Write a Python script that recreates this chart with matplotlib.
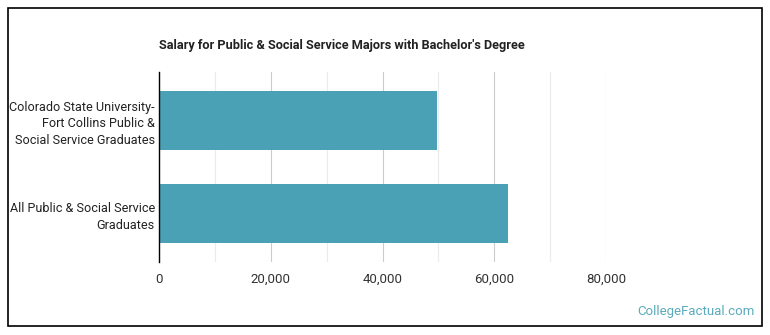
import matplotlib.pyplot as plt
from matplotlib.patches import Rectangle
from matplotlib.ticker import FuncFormatter, MultipleLocator

categories = ['Colorado State University-\nFort Collins Public &\nSocial Service Graduates',
              'All Public & Social Service\nGraduates']
salaries = [49800, 62500]
xticks = [0, 20000, 40000, 60000, 80000]

plt.rcParams['font.family'] = ['Roboto', 'DejaVu Sans']

fig = plt.figure(figsize=(7.7, 3.35), dpi=100)
ax = fig.add_axes([159/770, 1 - 262/335, (606 - 159)/770, (262 - 72)/335])

ax.barh(range(len(categories)), salaries, height=0.63, color='#4aa0b5', zorder=3)
ax.set_ylim(1.52, -0.52)
ax.set_xlim(0, 80000)

ax.set_xticks(xticks)
ax.xaxis.set_minor_locator(MultipleLocator(10000))
ax.xaxis.set_major_formatter(FuncFormatter(lambda v, p: f'{int(v):,}'))
ax.grid(axis='x', which='major', color='#cccccc', linewidth=0.8, zorder=0)
ax.grid(axis='x', which='minor', color='#ebebeb', linewidth=0.8, zorder=0)
ax.tick_params(axis='x', which='both', length=0, pad=8, labelsize=9.5, labelcolor='#333333')

ax.set_yticks(range(len(categories)))
ax.set_yticklabels(categories, linespacing=1.35)
ax.tick_params(axis='y', length=0, pad=3, labelsize=9.1, labelcolor='#222222')

for s in ['top', 'right', 'bottom']:
    ax.spines[s].set_visible(False)
ax.spines['left'].set_color('black')
ax.spines['left'].set_linewidth(1.0)
ax.spines['left'].set_zorder(4)

fig.text(159/770, 1 - 45/335, "Salary for Public & Social Service Majors with Bachelor's Degree",
         fontsize=9.2, fontweight='bold', color='#222222', va='center', ha='left')
fig.text(755/770, 1 - 312/335, 'CollegeFactual.com', fontsize=9.5, color='#5aaabb',
         va='center', ha='right')

fig.patches.append(Rectangle((8/770, 1 - 326/335), 754/770, 318/335, transform=fig.transFigure,
                             fill=False, edgecolor='black', linewidth=1.2))

fig.savefig('out.png', dpi=100)
